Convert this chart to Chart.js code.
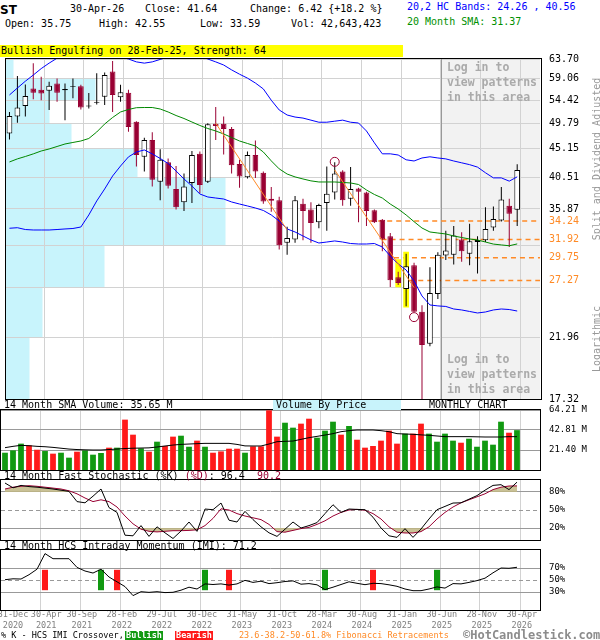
<!DOCTYPE html>
<html>
<head>
<meta charset="utf-8">
<script src="https://cdn.jsdelivr.net/npm/chart.js@4/dist/chart.umd.min.js"></script>
<style>
  html, body { margin: 0; padding: 0; background: #fff; }
  #page { position: relative; width: 600px; height: 640px; overflow: hidden; font-family: 'DejaVu Sans Mono', monospace; }
  canvas { position: absolute; left: 0; }
  .t { position: absolute; white-space: pre; font-size: 10px; line-height: 12px; color: #000; }
  .s { position: absolute; white-space: pre; font-size: 8.5px; line-height: 10px; color: #000; }
  .vert { position: absolute; white-space: pre; font-size: 10px; color: #999; transform: translate(-50%, -50%) rotate(-90deg); }
  .login { position: absolute; white-space: pre; font-size: 11.5px; line-height: 15px; font-weight: bold; color: #aaa; }
  .tag { position: absolute; height: 9px; line-height: 9px; width: 38px; text-align: center; color: #fff; font-size: 8.5px; font-weight: bold; }
</style>
</head>
<body>
<div id="page">
  <div class="t" style="left:0;top:45px;width:403px;height:12px;background:#ffff00;padding-left:1px;box-sizing:border-box;">Bullish Engulfing on 28-Feb-25, Strength: 64</div>

  <canvas id="priceChart" width="600" height="360" style="top:50px"></canvas>
  <canvas id="volumeChart" width="600" height="72" style="top:404px"></canvas>
  <canvas id="stochChart" width="600" height="72" style="top:474px"></canvas>
  <canvas id="imiChart" width="600" height="96" style="top:544px"></canvas>

  <div class="t" style="left:0;top:3px;font:bold 12px 'DejaVu Sans';">ST</div>
  <div class="t" style="left:70px;top:3px;">30-Apr-26</div>
  <div class="t" style="left:145px;top:3px;">Close: 41.64</div>
  <div class="t" style="left:250px;top:3px;">Change: 6.42 {+18.2 %}</div>
  <div class="t" style="left:5px;top:18px;">Open: 35.75</div>
  <div class="t" style="left:99px;top:18px;">High: 42.55</div>
  <div class="t" style="left:200px;top:18px;">Low: 33.59</div>
  <div class="t" style="left:291px;top:18px;">Vol: 42,643,423</div>
  <div class="t" style="left:407px;top:1px;color:#0000ff;">20,2 HC Bands: 24.26 , 40.56</div>
  <div class="t" style="left:407px;top:16px;color:#009000;">20 Month SMA: 31.37</div>

  <div class="vert" style="left:596px;top:159px;">Split and Dividend Adjusted</div>
  <div class="vert" style="left:596px;top:339px;">Logarithmic</div>

  <div class="login" style="left:447px;top:60px;">Log in to
view patterns
in this area</div>
  <div class="login" style="left:447px;top:352px;">Log in to
view patterns
in this area</div>

  <div class="t" style="left:4px;top:399px;">14 Month SMA Volume: 35.65 M</div>
  <div class="t" style="left:273px;top:400px;width:128px;height:10px;line-height:10px;background:#c8f3fb;padding-left:3px;box-sizing:border-box;">Volume By Price</div>
  <div class="t" style="left:429px;top:399px;">MONTHLY CHART</div>
  <div class="t" style="left:4px;top:470px;">14 Month Fast Stochastic (%K) <span style="color:#990033">(%D)</span>: 96.4  <span style="color:#990033">90.2</span></div>
  <div class="t" style="left:4px;top:540px;">14 Month HCS Intraday Momentum (IMI): 71.2</div>

  <div class="s" style="left:1px;top:630px;">% K - HCS IMI Crossover,</div>
  <div class="tag" style="left:125px;top:631px;background:#119911;">Bullish</div>
  <div class="tag" style="left:175px;top:631px;background:#ff1a1a;">Bearish</div>
  <div class="s" style="left:239px;top:630px;color:#ff8a26;">23.6-38.2-50-61.8% Fibonacci Retracements</div>
  <div class="t" style="left:463px;top:628px;font-size:12px;line-height:14px;font-weight:bold;color:#8c8c8c;">©HotCandlestick.com</div>
</div>

<script>
// ---- Monthly bars, Dec 2020 .. Apr 2026 (index 0 .. 64) ----
const open = [47.9,51.1,53.2,56.9,56.6,56.4,58.0,56.5,57.2,57.4,
  53.1,53.8,55.1,60.7,55.0,56.0,50.1,43.8,46.7,39.8,
  42.9,38.7,36.8,39.6,44.3,39.8,49.7,49.7,48.7,42.6,
  40.5,44.1,41.2,37.3,37.1,31.5,31.9,36.6,35.8,34.1,
  36.7,38.2,41.4,37.3,38.8,38.2,35.7,34.4,32.3,27.6,
  26.4,28.9,24.2,21.4,25.9,30.0,30.1,31.9,30.2,31.6,
  31.8,33.4,34.3,36.3,35.75];
const high = [52.0,59.7,57.8,62.7,59.5,58.4,59.1,58.0,59.1,57.7,
  55.9,60.3,60.5,63.2,57.7,56.6,50.2,47.1,48.1,45.1,
  43.5,42.3,41.1,44.8,44.7,49.8,53.0,51.1,49.1,43.3,
  44.7,46.6,41.4,39.0,37.6,33.5,37.7,37.3,36.8,36.6,
  42.2,42.9,41.6,42.1,38.9,38.3,35.8,34.5,32.7,28.2,
  30.2,29.2,24.8,28.7,30.4,33.0,33.6,32.8,33.9,32.3,
  36.1,36.2,39.0,37.3,42.55];
const low = [46.8,49.9,51.1,54.6,54.4,52.4,54.1,50.4,54.8,52.5,
  52.7,53.5,53.4,52.0,54.1,48.2,42.2,41.4,39.1,37.1,
  38.8,35.8,35.6,36.7,38.1,39.6,46.7,44.2,41.1,38.9,
  40.3,40.4,36.6,35.5,30.7,30.1,31.5,31.8,31.5,33.3,
  33.0,37.2,36.3,36.3,34.1,33.6,34.0,30.5,26.6,26.8,
  24.7,24.2,17.32,21.2,25.4,29.5,29.0,29.3,28.9,28.0,
  31.6,33.0,34.2,31.0,33.59];
const close = [51.2,52.9,55.3,56.0,55.8,57.5,56.0,56.8,57.4,52.9,
  53.3,54.0,59.9,55.5,56.1,49.1,44.1,46.7,40.1,43.3,
  39.2,36.1,39.1,44.1,39.3,49.6,49.3,48.7,42.4,40.6,
  44.1,41.4,36.9,37.0,31.2,32.1,37.1,35.6,34.0,36.4,
  38.0,41.1,37.1,38.7,38.3,35.6,34.1,31.9,27.3,27.0,
  28.8,24.2,21.3,26.0,30.1,30.6,32.4,30.5,31.7,31.85,
  33.2,34.5,37.2,35.22,41.64];

// Volume in millions of shares and its 14-month average
const volume = [18.5,21.0,28.2,26.4,21.7,20.3,17.5,18.5,13.2,19.6,
  21.0,16.4,18.2,23.9,23.9,53.9,37.8,23.2,19.6,30.3,
  25.7,35.7,36.7,24.9,31.4,24.9,18.5,19.9,22.8,22.8,
  18.5,25.3,25.3,63.9,35.7,50.6,45.3,49.6,54.9,34.6,
  42.1,51.7,37.8,47.1,32.4,23.9,25.7,31.4,42.1,28.2,
  38.9,38.9,49.6,38.9,30.3,38.9,31.4,29.2,33.5,24.9,
  31.4,27.1,51.7,39.9,42.643423];
const volumeSma = [23.9,25.3,26.4,26.0,25.3,24.9,24.2,23.3,22.4,21.9,
  21.6,21.4,21.4,21.9,22.4,23.0,23.3,23.5,23.7,24.6,
  25.7,26.7,27.4,27.8,28.2,28.5,28.5,28.5,28.5,27.4,
  25.8,25.7,25.7,27.8,30.3,30.7,31.0,32.8,34.6,36.0,
  37.4,38.9,41.0,42.1,42.8,42.8,42.8,42.1,41.0,38.9,
  38.5,38.2,37.6,37.1,36.4,35.7,35.7,35.7,35.7,35.5,
  35.3,35.3,35.3,35.7,35.65];

// 20,2 HC bands and the 20-month SMA
const hcUpper = [55.5,57.0,58.5,59.9,61.4,62.7,63.9,64.9,65.7,65.9,
  65.9,65.7,65.2,64.7,64.2,63.7,63.0,62.7,63.0,63.6,
  64.2,64.7,64.9,64.9,64.4,63.7,63.0,62.25,61.1,60.1,
  59.2,58.1,56.8,54.4,52.4,51.4,51.0,50.8,50.4,50.0,
  50.0,50.2,50.4,50.0,49.85,48.35,46.2,44.3,44.3,44.1,
  43.3,43.1,43.6,43.8,43.6,43.45,43.1,42.8,42.5,42.1,
  41.2,40.4,40.4,39.9,40.56];
const hcLower = [33.31,33.38,33.15,33.09,33.09,33.09,33.15,33.22,33.28,33.47,
  35.05,36.98,38.72,40.69,42.28,43.78,44.61,44.96,44.29,43.52,
  42.69,41.48,40.23,39.16,37.98,37.55,37.4,37.26,36.84,36.55,
  36.28,36.0,35.66,35.05,34.25,33.22,32.84,32.34,31.85,31.48,
  31.6,31.73,31.6,31.42,31.36,31.36,31.42,31.0,29.95,29.05,
  28.39,27.22,25.7,24.83,24.74,24.69,24.45,24.36,24.22,24.08,
  24.17,24.36,24.45,24.4,24.26];
const sma20 = [42.94,43.45,43.85,44.29,44.78,45.13,45.56,46.0,46.27,46.53,
  46.98,48.16,49.66,50.91,52.0,52.5,52.86,52.9,52.9,52.6,
  52.0,51.3,50.72,50.04,49.38,48.81,48.35,47.8,47.16,46.53,
  46.09,45.65,44.61,43.12,41.82,41.0,40.55,40.23,39.94,39.77,
  39.77,39.77,39.7,39.62,39.39,38.57,37.91,37.4,36.55,35.86,
  35.05,34.16,33.34,32.84,32.71,32.59,32.34,32.15,31.97,31.85,
  31.6,31.35,31.25,31.15,31.37];

// 14-month fast stochastic and HCS intraday momentum
const stochK = [95,87,91,89,88,86.5,85,83,81,64,
  62,73,85,54,46,8,7,24,6,22,
  12,2.5,15,30,14.4,51.6,50.5,61.6,33,30,
  47.7,34,22,12,6,18,30,20,24,29,
  44,58.8,46,51.6,51,50.5,38,20,7,4.4,
  18.9,4.4,18.3,35,50.5,56,61.6,62,68,74,
  83,91,92.2,84,96.4];
const stochD = [85,88,89.5,90.5,89.5,88,86.5,85,82,77,
  70,64,67,64,55,40,27,18,14.5,13.5,
  14.5,15.5,15.5,16,17,24,36,52,50,44,
  40,37,34,26,14,13,16,19,21,26,
  32,40,46,50,51,49.5,44,35,22,13,
  11.7,11.7,14,22,35,46,55,62,67,72,
  77,84,88,90,90.2];
const imi = [50.5,52,51.6,58.8,68,94,85.5,85.5,85.5,71,
  65,61.6,68,55,47,39,24,30.5,29.4,30.5,
  29,29.5,33,38,35,43.5,42.5,43.5,41.5,43.5,
  49.4,46,48,44,45.5,47.5,48.5,43,44,42,
  34,38,42.5,47,44.5,42.2,44.5,44,42,39.5,
  35,32.2,32.2,35,38.5,36.5,44,43.5,46,49,
  53,62,70,69.5,71.2];
const bullishCross = [12, 25, 40, 54];
const bearishCross = [5, 14, 28, 46];
const crossSpan = [33, 67];

// Price axis, patterns and levels
const priceGrid = [17.32,21.96,26.59,31.23,35.87,40.51,45.15,49.79,54.42,59.06,63.70];
const priceGridLabels = ['17.32','21.96','','','35.87','40.51','45.15','49.79','54.42','59.06','63.70'];
const fibLevels = [27.27, 29.75, 31.92, 34.24];
const vbpShare = [11, 17, 45, 100, 100, 60, 30, 20, 41, 3.5]; // per price band, lowest first, % of busiest band
const trendA = [{x: 26, y: 49.8}, {x: 35, y: 33.1}];
const trendB = [{x: 41, y: 41.64}, {x: 51, y: 26.54}];
const swingPoints = [{x: 41, y: 42.96}, {x: 51, y: 23.70}];
const engulfing = [{x: 49, y: [26.57, 29.58]}, {x: 50, y: [24.58, 30.45]}];

// Time axis
const gridMonths = [4, 9, 14, 19, 24, 29, 34, 39, 44, 49, 54, 59, 64];
const labelMonths = [0, 4, 9, 14, 19, 24, 29, 34, 39, 44, 49, 54, 59, 64];
const dateLabels = [['31-Dec','2020'],['30-Apr','2021'],['30-Sep','2021'],['28-Feb','2022'],['29-Jul','2022'],
  ['30-Dec','2022'],['31-May','2023'],['31-Oct','2023'],['28-Mar','2024'],['30-Aug','2024'],
  ['31-Jan','2025'],['30-Jun','2025'],['28-Nov','2025'],['30-Apr','2026']];
const lockedFrom = 54;  // months from here on are shaded

const volumeTicks = [21.40, 42.81, 64.21];
const stochTicks = [20, 50, 80];
const imiTicks = [30, 50, 70];

// ---- styling ----
const ORANGE = '#ff8a26';
const CANDLE_RED = '#990033';
const UP_GREEN = '#119911';
const DOWN_RED = '#ff1a1a';
const KHAKI = 'rgba(192,182,132,0.85)';
const GRID = '#d2d2d2';
const X_MIN = -0.5, X_MAX = 66.875, GRID_SHIFT = 0.375;

Chart.defaults.font.family = "'DejaVu Sans Mono', monospace";
Chart.defaults.font.size = 10;
Chart.defaults.color = '#000';

const pts = arr => arr.map((y, x) => ({x, y}));
const isUp = i => close[i] >= open[i];

function fibStart(level) {
  const [a, b] = trendB;
  const t = (Math.log(a.y) - Math.log(level)) / (Math.log(a.y) - Math.log(b.y));
  return a.x + t * (b.x - a.x);
}

const baseOptions = () => ({
  responsive: false, animation: false, devicePixelRatio: 1, events: [],
  plugins: { legend: { display: false }, tooltip: { enabled: false } }
});

function monthAxis() {
  return {
    type: 'linear', position: 'bottom', min: X_MIN, max: X_MAX, bounds: 'data', offset: false,
    grid: { color: GRID, lineWidth: 1, drawTicks: false, offset: false },
    border: { display: false },
    ticks: { display: false },
    afterBuildTicks: s => { s.ticks = gridMonths.map(m => ({ value: m + GRID_SHIFT })); },
    afterFit: s => { s.height = 0; s.paddingLeft = 0; s.paddingRight = 0; }
  };
}

function sideAxis(extra) {
  return Object.assign({
    position: 'right', bounds: 'data',
    border: { display: false },
    afterFit: s => { s.width = 60; s.paddingTop = 0; s.paddingBottom = 0; }
  }, extra);
}

const dashAt50 = ctx => (ctx.tick && ctx.tick.value === 50) ? [4, 3] : [];

const panelBox = {
  id: 'panelBox',
  afterDraw(chart) {
    const { ctx, chartArea: a } = chart;
    ctx.save();
    ctx.strokeStyle = '#000';
    ctx.lineWidth = 1;
    ctx.strokeRect(Math.round(a.left) - 0.5, Math.round(a.top) - 0.5,
      Math.round(a.right - a.left) + 1, Math.round(a.bottom - a.top) + 1);
    ctx.restore();
  }
};

const priceBackdrop = {
  id: 'priceBackdrop',
  beforeDraw(chart) {
    const { ctx, chartArea: a, scales } = chart;
    const { x, y, xv } = scales;
    ctx.save();
    const lx = Math.round(x.getPixelForValue(lockedFrom + GRID_SHIFT));
    ctx.fillStyle = '#f2f2f2';
    ctx.fillRect(lx, a.top, a.right - lx, a.bottom - a.top);
    ctx.fillStyle = '#c8f4fc';
    vbpShare.forEach((share, k) => {
      const yTop = Math.round(y.getPixelForValue(priceGrid[k + 1]));
      const yBot = Math.round(y.getPixelForValue(priceGrid[k]));
      const w = Math.round(xv.getPixelForValue(share) - xv.getPixelForValue(0));
      ctx.fillRect(a.left, yTop, w, yBot - yTop);
    });
    ctx.restore();
  },
  beforeDatasetsDraw(chart) {
    const { ctx, chartArea: a, scales: { x } } = chart;
    const lx = Math.round(x.getPixelForValue(lockedFrom + GRID_SHIFT)) + 0.5;
    ctx.save();
    ctx.strokeStyle = '#999';
    ctx.lineWidth = 1;
    ctx.beginPath();
    ctx.moveTo(lx, a.top);
    ctx.lineTo(lx, a.bottom);
    ctx.stroke();
    ctx.restore();
  }
};

// ---- price panel ----
const lineStyle = (data, color, order, extra) => Object.assign({
  type: 'line', data, borderColor: color, borderWidth: 1, pointRadius: 0, tension: 0, fill: false, order
}, extra || {});

const priceDatasets = [
  ...fibLevels.map(level => lineStyle([{x: fibStart(level), y: level}, {x: X_MAX, y: level}], ORANGE, 10,
    { borderWidth: 1.5, borderDash: [5, 4] })),
  { type: 'bar', data: engulfing, backgroundColor: '#ffff00', grouped: false, maxBarThickness: 10,
    inflateAmount: 0, order: 9 },
  { type: 'bar', data: low.map((l, i) => ({ x: i, y: [l, high[i]] })),
    backgroundColor: low.map((_, i) => isUp(i) ? '#000' : CANDLE_RED),
    grouped: false, maxBarThickness: 1, inflateAmount: 0, order: 8 },
  { type: 'bar', data: open.map((o, i) => ({ x: i, y: [o, close[i]] })),
    backgroundColor: open.map((_, i) => isUp(i) ? '#fff' : CANDLE_RED),
    borderColor: open.map((_, i) => isUp(i) ? '#000' : CANDLE_RED),
    borderWidth: 1, borderSkipped: false, grouped: false, maxBarThickness: 6, inflateAmount: 0, order: 7 },
  lineStyle(pts(sma20), '#008800', 5),
  lineStyle(pts(hcUpper), '#0000ff', 5),
  lineStyle(pts(hcLower), '#0000ff', 5),
  lineStyle(trendA, ORANGE, 4),
  lineStyle(trendB, ORANGE, 4),
  { type: 'line', data: swingPoints, showLine: false, pointRadius: 4.5, pointStyle: 'circle',
    pointBorderColor: CANDLE_RED, pointBackgroundColor: 'rgba(0,0,0,0)', pointBorderWidth: 1, order: 3 }
];

const priceTickValues = priceGrid.concat(fibLevels);
new Chart(document.getElementById('priceChart'), {
  type: 'bar',
  data: { datasets: priceDatasets },
  plugins: [priceBackdrop, panelBox],
  options: Object.assign(baseOptions(), {
    layout: { padding: { left: 1, right: 0, top: 9, bottom: 11 } },
    scales: {
      x: monthAxis(),
      // horizontal scale for the volume-by-price bands (laid out but takes no room)
      xv: {
        type: 'linear', position: 'top', min: 0, max: 242.7, bounds: 'data', offset: false,
        grid: { display: false, drawTicks: false }, border: { display: false },
        ticks: { display: false },
        afterFit: s => { s.height = 0; s.paddingLeft = 0; s.paddingRight = 0; }
      },
      y: sideAxis({
        type: 'logarithmic', min: 17.32, max: 63.70,
        afterBuildTicks: s => { s.ticks = priceTickValues.map(v => ({ value: v })); },
        grid: { drawTicks: false, color: ctx => (ctx.tick && fibLevels.includes(ctx.tick.value)) ? 'rgba(0,0,0,0)' : GRID },
        ticks: {
          autoSkip: false, padding: 9, font: { size: 10 },
          color: ctx => (ctx.tick && fibLevels.includes(ctx.tick.value)) ? ORANGE : '#000',
          callback: v => {
            const f = fibLevels.indexOf(v);
            if (f >= 0) return v.toFixed(2);
            const g = priceGrid.indexOf(v);
            return g >= 0 ? priceGridLabels[g] : '';
          }
        }
      })
    }
  })
});

// ---- volume panel ----
new Chart(document.getElementById('volumeChart'), {
  type: 'bar',
  data: { datasets: [
    { type: 'bar', data: pts(volume), backgroundColor: volume.map((_, i) => isUp(i) ? UP_GREEN : DOWN_RED),
      grouped: false, maxBarThickness: 6, inflateAmount: 0, order: 2 },
    lineStyle(pts(volumeSma), '#000', 1)
  ] },
  plugins: [panelBox],
  options: Object.assign(baseOptions(), {
    layout: { padding: { left: 1, right: 0, top: 6, bottom: 6 } },
    scales: {
      x: monthAxis(),
      y: sideAxis({
        type: 'linear', min: 0, max: 64.21,
        afterBuildTicks: s => { s.ticks = volumeTicks.map(v => ({ value: v })); },
        grid: { drawTicks: false, color: '#999' },
        ticks: { autoSkip: false, padding: 9, font: { size: 9 }, callback: v => v.toFixed(2) + ' M' }
      })
    }
  })
});

// ---- stochastic panel ----
new Chart(document.getElementById('stochChart'), {
  type: 'bar',
  data: { datasets: [
    lineStyle(pts(stochD), 'rgba(0,0,0,0)', 6, { borderWidth: 0,
      fill: { target: { value: 80 }, above: KHAKI, below: 'rgba(0,0,0,0)' } }),
    lineStyle(pts(stochD), 'rgba(0,0,0,0)', 5, { borderWidth: 0,
      fill: { target: { value: 20 }, above: 'rgba(0,0,0,0)', below: KHAKI } }),
    lineStyle(pts(stochD), CANDLE_RED, 2),
    lineStyle(pts(stochK), '#000', 1)
  ] },
  plugins: [panelBox],
  options: Object.assign(baseOptions(), {
    layout: { padding: { left: 1, right: 0, top: 6, bottom: 6 } },
    scales: {
      x: monthAxis(),
      y: sideAxis({
        type: 'linear', min: 0, max: 100,
        afterBuildTicks: s => { s.ticks = stochTicks.map(v => ({ value: v })); },
        grid: { drawTicks: false, color: '#999' },
        border: { display: false, dash: dashAt50 },
        ticks: { autoSkip: false, padding: 9, font: { size: 9 }, callback: v => v + '%' }
      })
    }
  })
});

// ---- IMI panel with crossover markers and the date axis ----
const labelValue = (m, k) => m + (k === 0 ? 1.0 : k === 1 ? 1.15 : 0.6);
new Chart(document.getElementById('imiChart'), {
  type: 'bar',
  data: { datasets: [
    { type: 'bar', data: bullishCross.map(m => ({ x: m, y: crossSpan })), backgroundColor: UP_GREEN,
      grouped: false, maxBarThickness: 6, inflateAmount: 0, order: 3 },
    { type: 'bar', data: bearishCross.map(m => ({ x: m, y: crossSpan })), backgroundColor: DOWN_RED,
      grouped: false, maxBarThickness: 6, inflateAmount: 0, order: 3 },
    lineStyle(pts(imi), '#000', 1)
  ] },
  plugins: [panelBox],
  options: Object.assign(baseOptions(), {
    layout: { padding: { left: 1, right: 0, top: 6, bottom: 0 } },
    scales: {
      x: monthAxis(),
      xl: {
        type: 'linear', position: 'bottom', min: X_MIN, max: X_MAX, bounds: 'data', offset: false,
        grid: { display: false, drawTicks: false }, border: { display: false },
        ticks: { autoSkip: false, maxRotation: 0, minRotation: 0, padding: 0, color: '#808080',
          font: { size: 8.5, lineHeight: 1.2 }, callback: (v, i) => dateLabels[i] },
        afterBuildTicks: s => { s.ticks = labelMonths.map((m, k) => ({ value: labelValue(m, k) })); },
        afterFit: s => { s.height = 30; s.paddingLeft = 0; s.paddingRight = 0; }
      },
      y: sideAxis({
        type: 'linear', min: 0, max: 100,
        afterBuildTicks: s => { s.ticks = imiTicks.map(v => ({ value: v })); },
        grid: { drawTicks: false, color: '#999' },
        border: { display: false, dash: dashAt50 },
        ticks: { autoSkip: false, padding: 9, font: { size: 9 }, callback: v => v + '%' }
      })
    }
  })
});
</script>
</body>
</html>
